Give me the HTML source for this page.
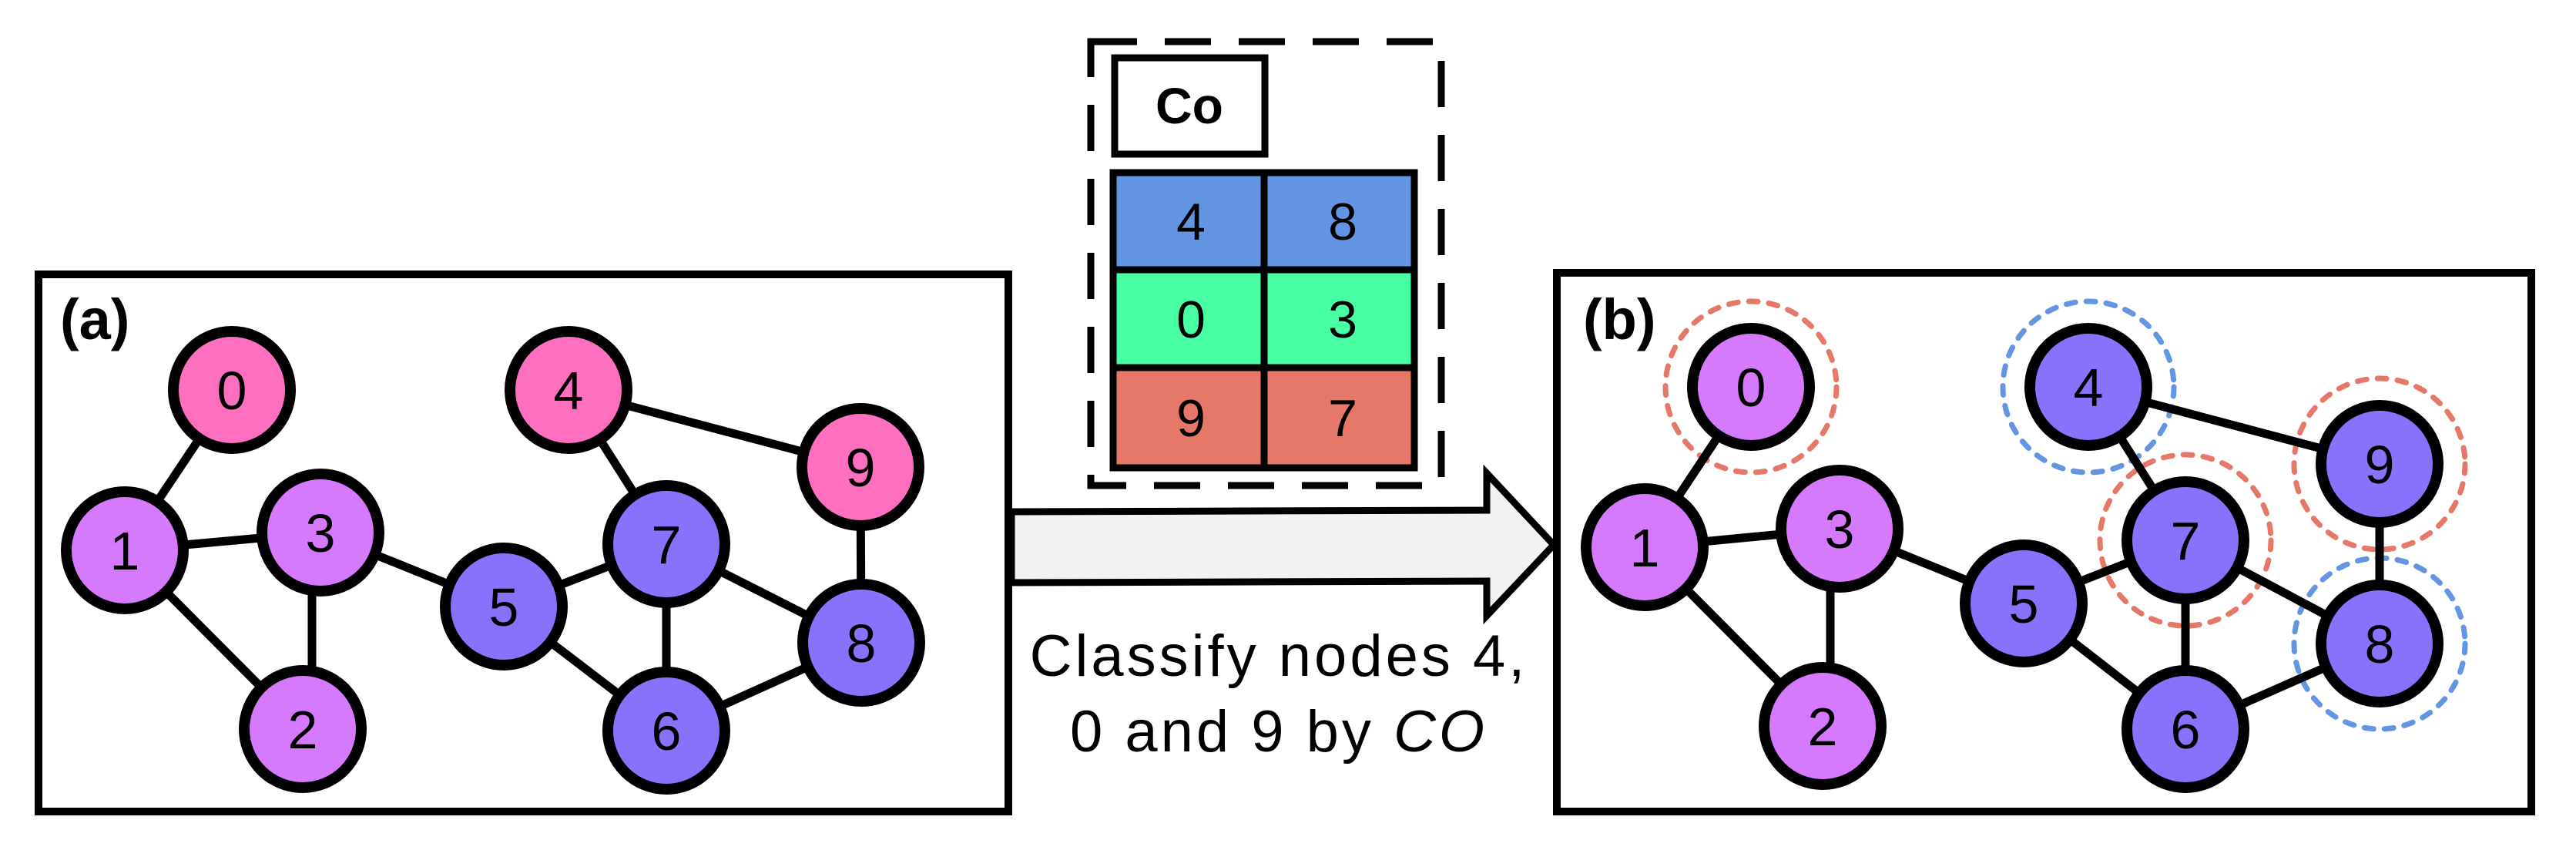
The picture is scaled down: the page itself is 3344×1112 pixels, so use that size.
<!DOCTYPE html>
<html><head><meta charset="utf-8"><style>
html,body{margin:0;padding:0;background:#fff}
svg{display:block}
text{font-family:"Liberation Sans",Arial,sans-serif}
</style></head><body>
<svg width="3344" height="1112" viewBox="0 0 3344 1112" xmlns="http://www.w3.org/2000/svg">
<rect x="0" y="0" width="3344" height="1112" fill="#fff"/>
<!-- Panel a -->
<rect x="50" y="356" width="1259" height="697" fill="none" stroke="#000" stroke-width="10"/>
<text x="78" y="440" font-size="74" font-weight="bold">(a)</text>
<g stroke="#000" stroke-width="11">
<line x1="301" y1="506" x2="162" y2="714"/>
<line x1="162" y1="714" x2="416" y2="691"/>
<line x1="162" y1="714" x2="393" y2="946"/>
<line x1="405" y1="691" x2="405" y2="946"/>
<line x1="416" y1="691" x2="654" y2="787"/>
<line x1="654" y1="787" x2="865" y2="706"/>
<line x1="654" y1="787" x2="865" y2="948"/>
<line x1="865" y1="706" x2="865" y2="948"/>
<line x1="865" y1="706" x2="1118" y2="834"/>
<line x1="865" y1="948" x2="1118" y2="834"/>
<line x1="738" y1="506" x2="865" y2="706"/>
<line x1="738" y1="506" x2="1117" y2="606"/>
<line x1="1117" y1="606" x2="1118" y2="834"/>
</g>
<g stroke="#000" stroke-width="14">
<circle cx="301" cy="506" r="76" fill="#FF6FBF"/>
<circle cx="162" cy="714" r="76" fill="#D57AFC"/>
<circle cx="416" cy="691" r="76" fill="#D57AFC"/>
<circle cx="393" cy="946" r="76" fill="#D57AFC"/>
<circle cx="654" cy="787" r="76" fill="#8872FC"/>
<circle cx="738" cy="506" r="76" fill="#FF6FBF"/>
<circle cx="865" cy="706" r="76" fill="#8872FC"/>
<circle cx="1117" cy="606" r="76" fill="#FF6FBF"/>
<circle cx="1118" cy="834" r="76" fill="#8872FC"/>
<circle cx="865" cy="948" r="76" fill="#8872FC"/>
</g>
<g font-size="70" text-anchor="middle" fill="#000">
<text x="301" y="531">0</text><text x="162" y="739">1</text><text x="416" y="716">3</text>
<text x="393" y="971">2</text><text x="654" y="812">5</text><text x="738" y="531">4</text>
<text x="865" y="731">7</text><text x="1117" y="631">9</text><text x="1118" y="859">8</text>
<text x="865" y="973">6</text>
</g>
<!-- Middle -->
<rect x="1416" y="54" width="455" height="576" fill="none" stroke="#000" stroke-width="9" stroke-dasharray="60,36"/>
<rect x="1447" y="75" width="195" height="125" fill="#fff" stroke="#000" stroke-width="9"/>
<text x="1544" y="160" font-size="66" font-weight="bold" text-anchor="middle">Co</text>
<rect x="1445" y="224" width="391" height="126" fill="#6495E3"/>
<rect x="1445" y="350" width="391" height="127" fill="#48FFA4"/>
<rect x="1445" y="477" width="391" height="130" fill="#E57868"/>
<g stroke="#000" stroke-width="9" fill="none">
<rect x="1445" y="224" width="391" height="383"/>
<line x1="1445" y1="350" x2="1836" y2="350"/>
<line x1="1445" y1="477" x2="1836" y2="477"/>
<line x1="1641" y1="224" x2="1641" y2="607"/>
</g>
<g font-size="68" text-anchor="middle">
<text x="1546" y="311">4</text><text x="1743" y="311">8</text>
<text x="1546" y="438">0</text><text x="1743" y="438">3</text>
<text x="1546" y="566">9</text><text x="1743" y="566">7</text>
</g>
<polygon points="1313,664 1930,662 1930,614 2017,707 1930,799 1930,754 1313,756" fill="#F2F2F2" stroke="#000" stroke-width="9" stroke-linejoin="miter"/>
<g font-size="76" text-anchor="middle" letter-spacing="4">
<text x="1660" y="877">Classify nodes 4,</text>
<text x="1660" y="975">0 and 9 by <tspan font-style="italic">CO</tspan></text>
</g>
<!-- Panel b -->
<rect x="2021" y="354" width="1265" height="699" fill="none" stroke="#000" stroke-width="10"/>
<text x="2055" y="440" font-size="74" font-weight="bold">(b)</text>
<g fill="none" stroke-width="7" stroke-linecap="round" stroke-dasharray="12,14">
<circle cx="2273" cy="502" r="111" stroke="#E57868"/>
<circle cx="2711" cy="502" r="111" stroke="#6495E3"/>
<circle cx="2837" cy="701" r="111" stroke="#E57868"/>
<circle cx="3089" cy="602" r="111" stroke="#E57868"/>
<circle cx="3089" cy="835" r="111" stroke="#6495E3"/>
</g>
<g stroke="#000" stroke-width="11">
<line x1="2273" y1="502" x2="2135" y2="710"/>
<line x1="2135" y1="710" x2="2388" y2="686"/>
<line x1="2135" y1="710" x2="2366" y2="942"/>
<line x1="2376" y1="686" x2="2376" y2="942"/>
<line x1="2388" y1="686" x2="2627" y2="783"/>
<line x1="2627" y1="783" x2="2837" y2="701"/>
<line x1="2627" y1="783" x2="2837" y2="946"/>
<line x1="2837" y1="701" x2="2837" y2="946"/>
<line x1="2837" y1="701" x2="3089" y2="835"/>
<line x1="2837" y1="946" x2="3089" y2="835"/>
<line x1="2711" y1="502" x2="2837" y2="701"/>
<line x1="2711" y1="502" x2="3089" y2="602"/>
<line x1="3089" y1="602" x2="3089" y2="835"/>
</g>
<g stroke="#000" stroke-width="14">
<circle cx="2273" cy="502" r="76" fill="#D57AFC"/>
<circle cx="2135" cy="710" r="76" fill="#D57AFC"/>
<circle cx="2388" cy="686" r="76" fill="#D57AFC"/>
<circle cx="2366" cy="942" r="76" fill="#D57AFC"/>
<circle cx="2627" cy="783" r="76" fill="#8872FC"/>
<circle cx="2711" cy="502" r="76" fill="#8872FC"/>
<circle cx="2837" cy="701" r="76" fill="#8872FC"/>
<circle cx="3089" cy="602" r="76" fill="#8872FC"/>
<circle cx="3089" cy="835" r="76" fill="#8872FC"/>
<circle cx="2837" cy="946" r="76" fill="#8872FC"/>
</g>
<g font-size="70" text-anchor="middle" fill="#000">
<text x="2273" y="527">0</text><text x="2135" y="735">1</text><text x="2388" y="711">3</text>
<text x="2366" y="967">2</text><text x="2627" y="808">5</text><text x="2711" y="527">4</text>
<text x="2837" y="726">7</text><text x="3089" y="627">9</text><text x="3089" y="860">8</text>
<text x="2837" y="971">6</text>
</g>
</svg>
</body></html>
